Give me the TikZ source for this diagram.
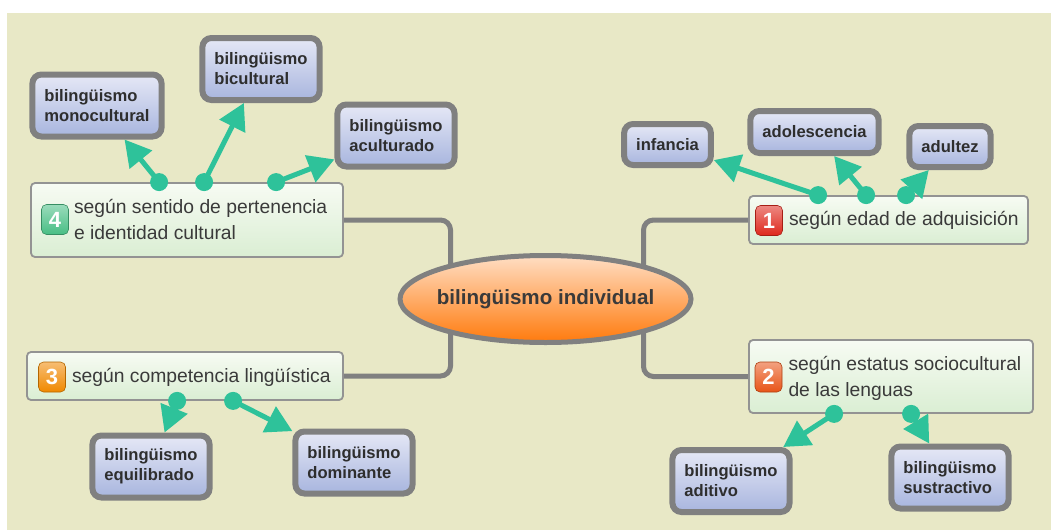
\documentclass[tikz,border=0pt]{standalone}
\usepackage{fontspec}
\setmainfont{Liberation Sans}
\usetikzlibrary{arrows.meta,positioning,shapes.geometric}
\definecolor{paper}{RGB}{232,232,198}
\definecolor{trunkgray}{RGB}{128,128,128}
\definecolor{twig}{RGB}{46,194,154}
\definecolor{ink}{RGB}{58,58,58}
\definecolor{topictop}{RGB}{247,251,243}
\definecolor{topicbot}{RGB}{218,238,211}
\definecolor{leaftop}{RGB}{229,232,246}
\definecolor{leafbot}{RGB}{168,181,222}
\definecolor{hubtop}{RGB}{255,222,196}
\definecolor{hubbot}{RGB}{255,122,12}
\definecolor{badgeone}{RGB}{222,40,28}
\definecolor{badgetwo}{RGB}{232,84,24}
\definecolor{badgethree}{RGB}{240,136,0}
\definecolor{badgefour}{RGB}{72,190,132}
\tikzset{>={Triangle[length=26pt,width=28pt]},
  topic/.style={draw=trunkgray!85, line width=1.8pt, rounded corners=4pt,
    top color=topictop, bottom color=topicbot, inner sep=0pt},
  topictext/.style={text=ink, align=left, inner sep=0pt,
    font=\fontsize{19.3}{26}\selectfont},
  badge/.style={draw=#1!75!black, line width=0.6pt, rounded corners=5pt,
    top color=#1!55!white, bottom color=#1, minimum width=27pt,
    minimum height=30pt, inner sep=0pt, text=white,
    font=\fontsize{22}{22}\selectfont\bfseries},
  leaf/.style={draw=trunkgray, line width=6pt, rounded corners=9pt,
    top color=leaftop, bottom color=leafbot, text=ink!80!black,
    align=left, inner xsep=12pt, inner ysep=0pt,
    font=\fontsize{16.6}{20}\selectfont\bfseries},
  hubtext/.style={text=ink, inner sep=0pt,
    font=\fontsize{20.6}{24}\selectfont\bfseries},
  trunk/.style={draw=trunkgray, line width=5pt, rounded corners=10pt},
  sprig/.style={draw=twig, line width=5pt, ->}
}

\begin{document}
\begin{tikzpicture}[x=1pt,y=-1pt]
  \fill[white] (0,0) rectangle (1051,530);
  \fill[paper] (7,13) rectangle (1051,530);
  \coordinate (hubc) at (545.5,299);

  % topics
  \node[topic, minimum width=312pt, minimum height=74pt] (n4) at (187,220) {};
  \node[badge=badgefour] (b4) at (55,219.5) {4};
  \node[topictext, right=5pt of b4] (t4) {según sentido de pertenencia\\e identidad cultural};

  \node[topic, minimum width=279pt, minimum height=48pt] (n1) at (888.5,220) {};
  \node[badge=badgeone] (b1) at (769,220.5) {1};
  \node[topictext, right=6pt of b1] (t1) {según edad de adquisición};

  \node[topic, minimum width=284pt, minimum height=73pt] (n2) at (891,376.5) {};
  \node[badge=badgetwo] (b2) at (768.5,377) {2};
  \node[topictext, right=6pt of b2, yshift=-1pt] (t2) {según estatus sociocultural\\de las lenguas};

  \node[topic, minimum width=316pt, minimum height=48pt] (n3) at (185,376) {};
  \node[badge=badgethree] (b3) at (52,377) {3};
  \node[topictext, right=6pt of b3] (t3) {según competencia lingüística};

  % trunks
  \draw[trunk] (n4.east) -| ([xshift=-95pt]hubc);
  \draw[trunk] (n3.east) -| ([xshift=-95pt]hubc);
  \draw[trunk] (n1.west) -| ([xshift=98pt]hubc);
  \draw[trunk] (n2.west) -| ([xshift=98pt]hubc);
  \node[draw=trunkgray, line width=5pt, ellipse, top color=hubtop,
    bottom color=hubbot, minimum width=291pt, minimum height=87pt,
    inner sep=0pt, label={[hubtext]center:bilingüismo individual}]
    (hub) at (hubc) {};

  % leaves
  \node[leaf, minimum height=62pt] (mono) at (97,105.5) {bilingüismo\\monocultural};
  \node[leaf, minimum height=62pt] (bicult) at (261,69) {bilingüismo\\bicultural};
  \node[leaf, minimum height=62pt] (acult) at (396,135.5) {bilingüismo\\aculturado};
  \node[leaf, minimum height=41pt] (infancia) at (667.5,144.5) {infancia};
  \node[leaf, minimum height=42pt] (adolesc) at (814.5,132) {adolescencia};
  \node[leaf, minimum height=41pt] (adultez) at (950,146.5) {adultez};
  \node[leaf, minimum height=62pt] (equil) at (151,466.5) {bilingüismo\\equilibrado};
  \node[leaf, minimum height=62pt] (domin) at (354,462.5) {bilingüismo\\dominante};
  \node[leaf, minimum height=62pt] (aditivo) at (731,481) {bilingüismo\\aditivo};
  \node[leaf, minimum height=62pt] (sustr) at (950,477.5) {bilingüismo\\sustractivo};

  % sprigs
  \coordinate (d4a) at ([xshift=129pt]n4.north west);
  \coordinate (d4b) at ([xshift=174pt]n4.north west);
  \coordinate (d4c) at ([xshift=246pt]n4.north west);
  \coordinate (d1a) at ([xshift=70pt]n1.north west);
  \coordinate (d1b) at ([xshift=118pt]n1.north west);
  \coordinate (d1c) at ([xshift=158pt]n1.north west);
  \coordinate (d3a) at ([xshift=151pt]n3.south west);
  \coordinate (d3b) at ([xshift=207pt]n3.south west);
  \coordinate (d2a) at ([xshift=86pt]n2.south west);
  \coordinate (d2b) at ([xshift=163pt]n2.south west);

  \draw[sprig] (d4a) -- (mono);
  \draw[sprig] (d4b) -- (bicult);
  \draw[sprig] (d4c) -- (acult);
  \draw[sprig] (d1a) -- (infancia);
  \draw[sprig] (d1b) -- (adolesc);
  \draw[sprig] (d1c) -- (adultez);
  \draw[sprig] (d3a) -- (equil);
  \draw[sprig] (d3b) -- (domin);
  \draw[sprig] (d2a) -- (aditivo);
  \draw[sprig] (d2b) -- (sustr);
  \foreach \d in {d4a,d4b,d4c,d1a,d1b,d1c,d3a,d3b,d2a,d2b}
    \fill[twig] (\d) circle[radius=9pt];
\end{tikzpicture}
\end{document}
